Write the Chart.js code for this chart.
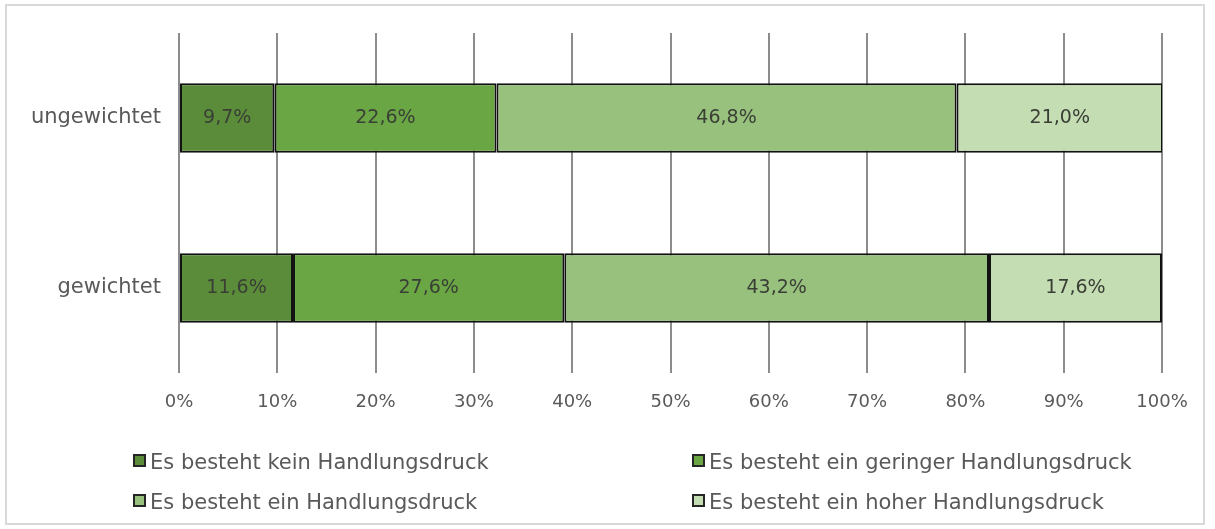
<!DOCTYPE html>
<html>
<head>
<meta charset="utf-8">
<script src="https://cdn.jsdelivr.net/npm/chart.js@4/dist/chart.umd.min.js"></script>
<style>
  html, body { margin: 0; padding: 0; background: #fff; }
  #wrap { position: relative; width: 1215px; height: 529px; }
  #frame { position: absolute; left: 5px; top: 4px; width: 1200px; height: 521px; border: 2px solid #d9d9d9; box-sizing: border-box; }
  #chart { position: absolute; left: 0; top: 0; }
  .legend-item { position: absolute; font-family: "DejaVu Sans", sans-serif; font-size: 21px; color: #595959; line-height: 24px; white-space: nowrap; }
  .legend-box { display: inline-block; width: 9px; height: 9px; border: 2px solid #262626; margin-right: 4px; vertical-align: 2px; }
</style>
</head>
<body>
<div id="wrap">
  <div id="frame"></div>
  <canvas id="chart" width="1215" height="529"></canvas>
  <div id="legend"></div>
</div>
<script>
const categories = ["ungewichtet", "gewichtet"];
const seriesNames = [
  "Es besteht kein Handlungsdruck",
  "Es besteht ein geringer Handlungsdruck",
  "Es besteht ein Handlungsdruck",
  "Es besteht ein hoher Handlungsdruck"
];
const keinDruck = [9.7, 11.6];
const geringerDruck = [22.6, 27.6];
const druck = [46.8, 43.2];
const hoherDruck = [21.0, 17.6];
const tickValues = [0, 10, 20, 30, 40, 50, 60, 70, 80, 90, 100];
const colors = ["#5b8c3a", "#6aa744", "#97c17d", "#c4ddb3"];

const seriesValues = [keinDruck, geringerDruck, druck, hoherDruck];
const fontFamily = '"DejaVu Sans", sans-serif';

// values written inside each segment
const barLabels = {
  id: "barLabels",
  afterDatasetsDraw(chart) {
    const ctx = chart.ctx;
    ctx.save();
    ctx.font = "19px " + fontFamily;
    ctx.fillStyle = "#3a3f36";
    ctx.textAlign = "center";
    ctx.textBaseline = "middle";
    chart.data.datasets.forEach((ds, i) => {
      chart.getDatasetMeta(i).data.forEach((bar, j) => {
        const x = (bar.x + bar.base) / 2;
        ctx.fillText(ds.data[j].toFixed(1).replace(".", ",") + "%", x, bar.y);
      });
    });
    ctx.restore();
  }
};

new Chart(document.getElementById("chart"), {
  type: "bar",
  data: {
    labels: categories,
    datasets: seriesNames.map((name, i) => ({
      label: name,
      data: seriesValues[i],
      backgroundColor: colors[i],
      borderColor: "#111",
      borderWidth: 2,
      borderSkipped: false,
      barPercentage: 0.41,
      categoryPercentage: 1
    }))
  },
  options: {
    indexAxis: "y",
    responsive: false,
    animation: false,
    layout: { padding: { left: 0, top: 33, right: 53, bottom: 106 } },
    plugins: { legend: { display: false }, tooltip: { enabled: false } },
    scales: {
      x: {
        stacked: true,
        min: 0,
        max: 100,
        afterBuildTicks: (scale) => { scale.ticks = tickValues.map(v => ({ value: v })); },
        afterFit: (scale) => { scale.height = 50; },
        grid: { color: "#8c8c8c", lineWidth: 2, drawTicks: false },
        border: { display: false },
        ticks: {
          padding: 19,
          color: "#595959",
          font: { family: fontFamily, size: 18 },
          callback: (v) => v + "%"
        }
      },
      y: {
        stacked: true,
        afterFit: (scale) => { scale.width = 179; },
        grid: { display: false },
        border: { display: false },
        ticks: {
          padding: 10,
          color: "#595959",
          font: { family: fontFamily, size: 21 }
        }
      }
    }
  },
  plugins: [barLabels]
});

// legend in two columns
const legendPos = [[133, 450], [692, 450], [133, 490], [692, 490]];
const legend = document.getElementById("legend");
seriesNames.forEach((name, i) => {
  const item = document.createElement("div");
  item.className = "legend-item";
  item.style.left = legendPos[i][0] + "px";
  item.style.top = legendPos[i][1] + "px";
  item.innerHTML = '<span class="legend-box" style="background:' + colors[i] + '"></span>' + name;
  legend.appendChild(item);
});
</script>
</body>
</html>
